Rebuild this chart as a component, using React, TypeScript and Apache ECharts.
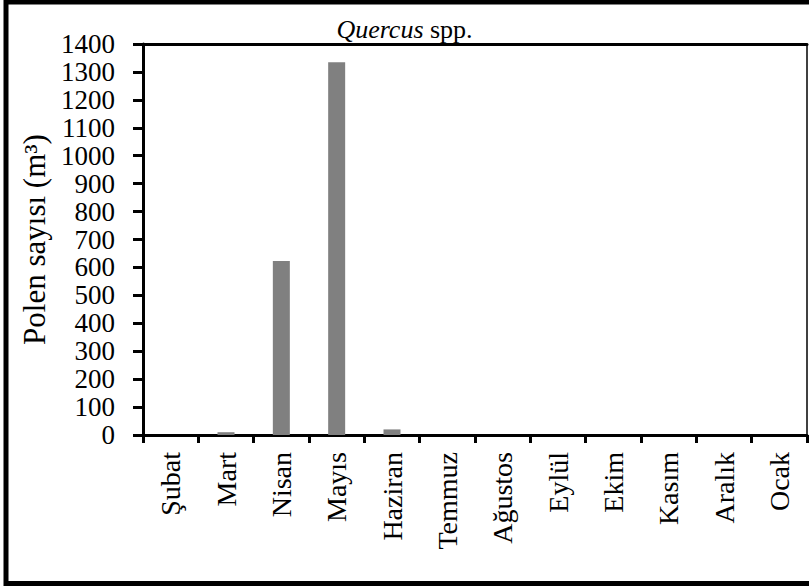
import React, { useEffect, useRef } from "react";
import * as echarts from "echarts";

const categories = ["Şubat", "Mart", "Nisan", "Mayıs", "Haziran", "Temmuz", "Ağustos", "Eylül", "Ekim", "Kasım", "Aralık", "Ocak"];
const polenValues = [0, 10, 623, 1335, 20, 0, 0, 0, 0, 0, 0, 0];
const yMin = 0;
const yMax = 1400;
const yStep = 100;

const FONT = "Liberation Serif";

export default function App() {
  const ref = useRef<HTMLDivElement>(null);
  useEffect(() => {
    if (!ref.current) return;
    const chart = echarts.init(ref.current, undefined, { renderer: "svg" });
    chart.setOption({
      animation: false,
      backgroundColor: "#ffffff",
      textStyle: { fontFamily: FONT },
      title: {
        text: "{i|Quercus}{n| spp.}",
        left: "center",
        top: 11,
        textStyle: {
          fontFamily: FONT,
          fontWeight: "normal",
          rich: {
            i: { fontFamily: FONT, fontSize: 26, fontStyle: "italic", fontWeight: "normal", color: "#000" },
            n: { fontFamily: FONT, fontSize: 26, fontWeight: "normal", color: "#000" },
          },
        },
      },
      grid: { left: 143, top: 44, right: 2, bottom: 152, containLabel: false },
      xAxis: [
        {
          type: "category",
          data: categories,
          position: "bottom",
          axisLine: { lineStyle: { color: "#000", width: 3 } },
          axisTick: { show: true, length: 8, lineStyle: { color: "#000", width: 3 }, alignWithLabel: false },
          axisLabel: {
            rotate: 90,
            margin: 17,
            interval: 0,
            color: "#000",
            fontFamily: FONT,
            fontSize: 28,
          },
          splitLine: { show: false },
        },
        {
          type: "category",
          data: categories,
          position: "top",
          axisLine: { show: true, onZero: false, lineStyle: { color: "#000", width: 3 } },
          axisTick: { show: false },
          axisLabel: { show: false },
        },
      ],
      yAxis: [
        {
          type: "value",
          min: yMin,
          max: yMax,
          interval: yStep,
          name: "Polen sayısı (m³)",
          nameLocation: "middle",
          nameGap: 93,
          nameRotate: 90,
          nameTextStyle: { fontFamily: FONT, fontSize: 31, color: "#000" },
          axisLine: { show: true, onZero: false, lineStyle: { color: "#000", width: 3 } },
          axisTick: { show: true, length: 10, lineStyle: { color: "#000", width: 3 } },
          axisLabel: {
            margin: 28,
            color: "#000",
            fontFamily: FONT,
            fontSize: 27,
            lineHeight: 24,
            formatter: (v: number) => String(v),
          },
          splitLine: { show: false },
        },
        {
          type: "value",
          min: yMin,
          max: yMax,
          interval: yStep,
          position: "right",
          axisLine: { show: true, onZero: false, lineStyle: { color: "#000", width: 1.5 } },
          axisTick: { show: false },
          axisLabel: { show: false },
          splitLine: { show: false },
        },
      ],
      series: [
        {
          type: "bar",
          data: polenValues,
          xAxisIndex: 0,
          yAxisIndex: 0,
          barWidth: 17,
          itemStyle: { color: "#808080" },
        },
      ],
      graphic: [
        {
          type: "rect",
          shape: { x: 6, y: 2, width: 830, height: 581.5 },
          style: { fill: "none", stroke: "#000", lineWidth: 5 },
          silent: true,
          z: 100,
        },
      ],
    });
    return () => chart.dispose();
  }, []);
  return (
    <div
      ref={ref}
      style={{ position: "absolute", left: 0, top: 0, width: 809, height: 587 }}
    />
  );
}
